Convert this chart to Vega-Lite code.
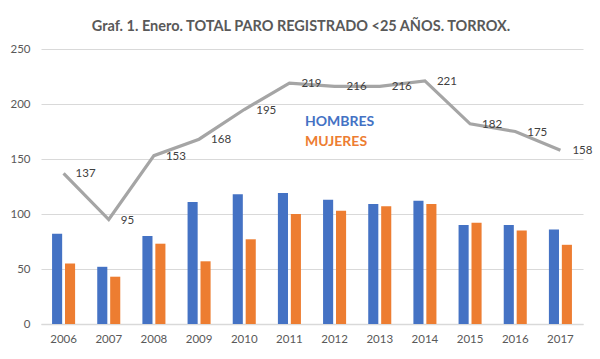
{
  "$schema": "https://vega.github.io/schema/vega-lite/v6.json",
  "width": 542,
  "height": 275,
  "autosize": {"type": "none"},
  "padding": {"left": 41, "top": 49, "right": 17, "bottom": 35},
  "background": "white",
  "title": {
    "text": "Graf. 1. Enero. TOTAL PARO REGISTRADO <25 AÑOS. TORROX.",
    "font": "Lato",
    "fontSize": 14.5,
    "fontWeight": "bold",
    "color": "#595959",
    "offset": 9,
    "dx": -11
  },
  "config": {
    "view": {"stroke": null},
    "font": "Lato",
    "axis": {"labelFont": "Lato", "labelColor": "#595959", "labelFontSize": 11.5}
  },
  "datasets": {
    "bars": [
      {"year": "2006", "sex": "HOMBRES", "value": 82},
      {"year": "2006", "sex": "MUJERES", "value": 55},
      {"year": "2007", "sex": "HOMBRES", "value": 52},
      {"year": "2007", "sex": "MUJERES", "value": 43},
      {"year": "2008", "sex": "HOMBRES", "value": 80},
      {"year": "2008", "sex": "MUJERES", "value": 73},
      {"year": "2009", "sex": "HOMBRES", "value": 111},
      {"year": "2009", "sex": "MUJERES", "value": 57},
      {"year": "2010", "sex": "HOMBRES", "value": 118},
      {"year": "2010", "sex": "MUJERES", "value": 77},
      {"year": "2011", "sex": "HOMBRES", "value": 119},
      {"year": "2011", "sex": "MUJERES", "value": 100},
      {"year": "2012", "sex": "HOMBRES", "value": 113},
      {"year": "2012", "sex": "MUJERES", "value": 103},
      {"year": "2013", "sex": "HOMBRES", "value": 109},
      {"year": "2013", "sex": "MUJERES", "value": 107},
      {"year": "2014", "sex": "HOMBRES", "value": 112},
      {"year": "2014", "sex": "MUJERES", "value": 109},
      {"year": "2015", "sex": "HOMBRES", "value": 90},
      {"year": "2015", "sex": "MUJERES", "value": 92},
      {"year": "2016", "sex": "HOMBRES", "value": 90},
      {"year": "2016", "sex": "MUJERES", "value": 85},
      {"year": "2017", "sex": "HOMBRES", "value": 86},
      {"year": "2017", "sex": "MUJERES", "value": 72}
    ],
    "total": [
      {"year": "2006", "total": 137},
      {"year": "2007", "total": 95},
      {"year": "2008", "total": 153},
      {"year": "2009", "total": 168},
      {"year": "2010", "total": 195},
      {"year": "2011", "total": 219},
      {"year": "2012", "total": 216},
      {"year": "2013", "total": 216},
      {"year": "2014", "total": 221},
      {"year": "2015", "total": 182},
      {"year": "2016", "total": 175},
      {"year": "2017", "total": 158}
    ]
  },
  "layer": [
    {
      "data": {"name": "bars"},
      "mark": {"type": "bar"},
      "encoding": {
        "x": {
          "field": "year", "type": "nominal",
          "scale": {"paddingInner": 0.49, "paddingOuter": 0.245},
          "axis": {"title": null, "labelAngle": 0, "ticks": false, "domainColor": "#D9D9D9", "domainWidth": 1.5, "labelPadding": 9, "grid": false}
        },
        "xOffset": {"field": "sex", "type": "nominal", "scale": {"paddingInner": 0.22}},
        "y": {
          "field": "value", "type": "quantitative",
          "scale": {"domain": [0, 250], "nice": false},
          "axis": {"title": null, "values": [0, 50, 100, 150, 200, 250], "domain": false, "ticks": false, "gridColor": "#D9D9D9", "gridWidth": 1, "labelPadding": 11}
        },
        "color": {
          "field": "sex", "type": "nominal",
          "scale": {"domain": ["HOMBRES", "MUJERES"], "range": ["#4472C4", "#ED7D31"]},
          "legend": {
            "title": null,
            "orient": "none",
            "legendX": 250,
            "legendY": 66,
            "symbolSize": 0,
            "symbolOpacity": 0,
            "symbolStrokeWidth": 0,
            "labelOffset": 0,
            "labelFont": "Lato",
            "labelFontSize": 14,
            "labelFontWeight": "bold",
            "rowPadding": 6,
            "labelLimit": 200,
            "encode": {
              "labels": {"update": {"fill": {"signal": "datum.value === 'HOMBRES' ? '#4472C4' : '#ED7D31'"}}}
            }
          }
        }
      }
    },
    {
      "data": {"name": "total"},
      "mark": {"type": "line", "color": "#A5A5A5", "strokeWidth": 3.2},
      "encoding": {
        "x": {"field": "year", "type": "nominal"},
        "y": {"field": "total", "type": "quantitative"}
      }
    },
    {
      "data": {"name": "total"},
      "mark": {"type": "text", "align": "left", "baseline": "middle", "dx": 12, "dy": 1, "fontSize": 11.5, "color": "#404040", "font": "Lato"},
      "encoding": {
        "x": {"field": "year", "type": "nominal"},
        "y": {"field": "total", "type": "quantitative"},
        "text": {"field": "total", "type": "quantitative"}
      }
    }
  ]
}
